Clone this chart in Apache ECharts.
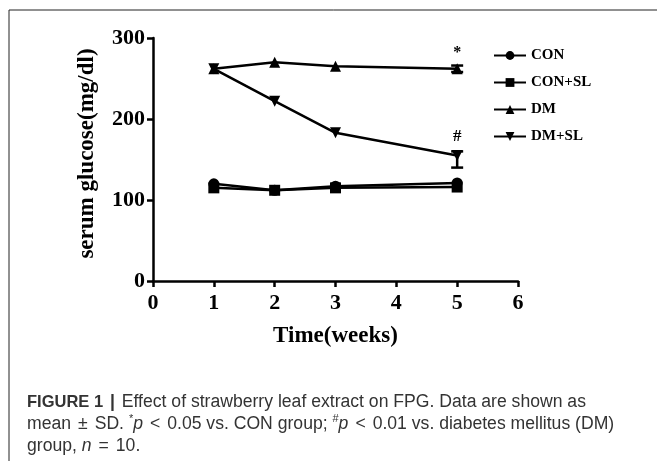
<!DOCTYPE html>
<html lang="en">
<head>
    <meta charset="UTF-8">
    <title>FPG chart</title>
    <script src="https://cdn.jsdelivr.net/npm/echarts@6/dist/echarts.min.js"></script>
    <style>
        body, html { padding: 0; margin: 0; background: #fff; }
        #chart-panel { width: 657px; height: 461px; }
    </style>
</head>
<body>
    <div id="chart-panel"></div>
    <script>
        // 数据
        var weeks = [1, 2, 3, 5];
        var conVals = [120, 112, 117, 121];
        var conSlVals = [115, 112, 115, 116];
        var dmVals = [262, 270, 265, 262];
        var dmSlVals = [262, 222, 183, 155];
        // error bars: [week, low, high]
        var errBars = [[5, 258, 266], [5, 140, 160]];
        var yTicks = [0, 100, 200, 300];
        var xTicks = [0, 1, 2, 3, 4, 5, 6];

        var serif = 'Liberation Serif';
        var sans = 'Liberation Sans';
        var downTri = 'path://M0,0 L10,0 L5,9 Z';

        function pairs(vals) {
            return weeks.map(function (w, i) { return [w, vals[i]]; });
        }

        var dmData = pairs(dmVals);
        dmData[3] = { value: dmData[3], label: { show: true, formatter: '*', position: 'top', distance: 2, fontSize: 16 } };
        var dmSlData = pairs(dmSlVals);
        dmSlData[3] = { value: dmSlData[3], label: { show: true, formatter: '#', position: 'top', distance: 5, fontSize: 17 } };

        var lineBase = {
            type: 'line',
            symbolSize: 11,
            lineStyle: { color: '#000', width: 2.5 },
            itemStyle: { color: '#000' },
            label: { fontFamily: serif, fontWeight: 'bold', color: '#000' }
        };

        var capSize = 17.6;
        var capColor = '#333';

        var option = {
            backgroundColor: '#fff',
            animation: false,
            grid: { left: 153, right: 139, top: 38, bottom: 180 },
            legend: {
                orient: 'vertical',
                left: 488,
                top: 43,
                itemWidth: 32,
                itemHeight: 11,
                itemGap: 12,
                textStyle: { fontFamily: serif, fontWeight: 'bold', fontSize: 15, color: '#000' },
                data: ['CON', 'CON+SL', 'DM', 'DM+SL']
            },
            xAxis: {
                type: 'value',
                min: 0, max: 6, interval: 1,
                name: 'Time(weeks)',
                nameLocation: 'middle',
                nameGap: 44,
                nameTextStyle: { fontFamily: serif, fontWeight: 'bold', fontSize: 23, color: '#000' },
                axisLine: { lineStyle: { color: '#000', width: 2.5 } },
                axisTick: { show: true, length: 6, lineStyle: { color: '#000', width: 2.5 } },
                axisLabel: {
                    fontFamily: serif, fontWeight: 'bold', fontSize: 22, color: '#000', margin: 11,
                    formatter: function (v) { return xTicks.indexOf(v) >= 0 ? String(v) : ''; }
                },
                splitLine: { show: false }
            },
            yAxis: {
                type: 'value',
                min: 0, max: 300, interval: 100,
                name: 'serum glucose(mg/dl)',
                nameLocation: 'middle',
                nameGap: 54,
                nameTextStyle: { fontFamily: serif, fontWeight: 'bold', fontSize: 23, color: '#000', padding: [0, 0, 0, 12] },
                axisLine: { show: true, lineStyle: { color: '#000', width: 2.5 } },
                axisTick: { show: true, length: 6, lineStyle: { color: '#000', width: 2.5 } },
                axisLabel: {
                    fontFamily: serif, fontWeight: 'bold', fontSize: 22, color: '#000', margin: 8,
                    formatter: function (v) { return yTicks.indexOf(v) >= 0 ? String(v) : ''; }
                },
                splitLine: { show: false }
            },
            series: [
                Object.assign({}, lineBase, { name: 'CON', symbol: 'circle', data: pairs(conVals) }),
                Object.assign({}, lineBase, { name: 'CON+SL', symbol: 'rect', data: pairs(conSlVals) }),
                Object.assign({}, lineBase, { name: 'DM', symbol: 'triangle', data: dmData }),
                Object.assign({}, lineBase, { name: 'DM+SL', symbol: downTri, data: dmSlData }),
                {
                    type: 'custom',
                    silent: true,
                    data: errBars,
                    renderItem: function (params, api) {
                        var x = api.value(0);
                        var lo = api.coord([x, api.value(1)]);
                        var hi = api.coord([x, api.value(2)]);
                        var w = 6;
                        var st = { stroke: '#000', lineWidth: 2.5 };
                        return {
                            type: 'group',
                            children: [
                                { type: 'line', shape: { x1: lo[0], y1: lo[1], x2: hi[0], y2: hi[1] }, style: st },
                                { type: 'line', shape: { x1: lo[0] - w, y1: lo[1], x2: lo[0] + w, y2: lo[1] }, style: st },
                                { type: 'line', shape: { x1: hi[0] - w, y1: hi[1], x2: hi[0] + w, y2: hi[1] }, style: st }
                            ]
                        };
                    }
                }
            ],
            graphic: [
                {
                    type: 'rect',
                    shape: { x: 9, y: 10, width: 700, height: 500 },
                    style: { fill: 'none', stroke: '#222', lineWidth: 1 },
                    silent: true
                },
                {
                    type: 'text',
                    left: 27,
                    top: 391,
                    style: {
                        text: '{b|FIGURE 1} {bar||} {n|Effect of strawberry leaf extract on FPG. Data are shown as}\n' +
                            '{n|mean}{op|±}{n|SD. }{sup|*}{i|p}{op|<}{n|0.05 vs. CON group; }{sup|#}{i|p}{op|<}{n|0.01 vs. diabetes mellitus (DM)}\n' +
                            '{n|group, }{i|n}{op|=}{n|10.}',
                        fontFamily: sans,
                        fontSize: capSize,
                        lineHeight: 22,
                        fill: capColor,
                        rich: {
                            b: { fontFamily: sans, fontWeight: 'bold', fontSize: 16.5, lineHeight: 22, fill: capColor },
                            bar: { fontFamily: sans, fontWeight: 'bold', fontSize: capSize, lineHeight: 22, fill: capColor, padding: [0, 2] },
                            n: { fontFamily: sans, fontSize: capSize, lineHeight: 22, fill: capColor },
                            op: { fontFamily: sans, fontSize: capSize, lineHeight: 22, fill: capColor, padding: [0, 7] },
                            i: { fontFamily: sans, fontStyle: 'italic', fontSize: capSize, lineHeight: 22, fill: capColor },
                            sup: { fontFamily: sans, fontSize: 11, lineHeight: 22, verticalAlign: 'top', padding: [0, 0, 8, 0], fill: capColor }
                        }
                    }
                }
            ]
        };

        var chartVM = echarts.init(document.getElementById('chart-panel'));
        chartVM.setOption(option);
    </script>
</body>
</html>
